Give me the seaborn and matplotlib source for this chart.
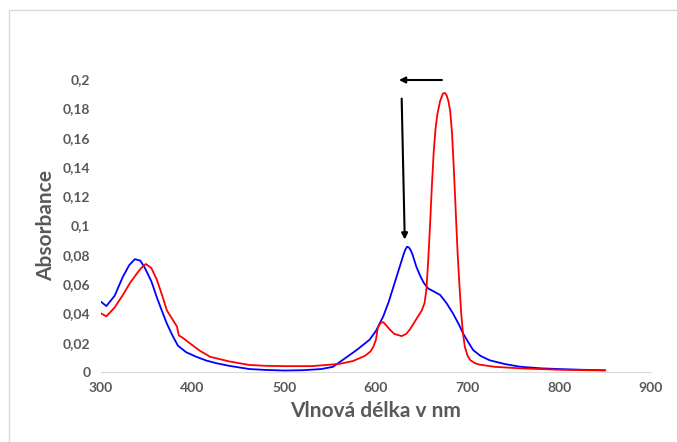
import numpy as np
import pandas as pd
import matplotlib
matplotlib.use("Agg")
import matplotlib.pyplot as plt
from matplotlib.lines import Line2D
import seaborn as sns

# spectrum (wavelength nm, absorbance)
blue_nm = [300, 306, 315, 324, 331, 337, 343, 348, 355, 361, 367, 372, 378, 384, 393, 404,
           415, 426, 440, 462, 480, 500, 520, 540, 553, 561, 570, 579, 586, 593, 600, 608,
           614, 619, 624, 628, 630, 632, 634, 636, 638, 640, 642, 644, 648, 652, 657, 663,
           670, 677, 684, 690, 695, 700, 706, 714, 724, 740, 757, 780, 800, 825, 850]
blue_abs = [0.048, 0.045, 0.052, 0.065, 0.073, 0.077, 0.076, 0.071, 0.062, 0.051, 0.041, 0.033,
            0.025, 0.018, 0.0135, 0.0104, 0.0078, 0.006, 0.0042, 0.002, 0.0014, 0.001, 0.0012, 0.002,
            0.0035, 0.007, 0.011, 0.015, 0.0185, 0.022, 0.028, 0.038, 0.048, 0.058, 0.068, 0.076,
            0.080, 0.0835, 0.0855, 0.085, 0.083, 0.080, 0.076, 0.072, 0.066, 0.061, 0.057, 0.055,
            0.0526, 0.047, 0.040, 0.033, 0.0264, 0.021, 0.015, 0.011, 0.008, 0.0055, 0.0036, 0.0025,
            0.002, 0.0015, 0.0012]
red_nm = [300, 306, 315, 324, 332, 339, 344, 349, 355, 361, 367, 372, 378, 383, 385, 390,
          397, 408, 419, 440, 462, 480, 500, 530, 560, 575, 588, 594, 597, 600, 602, 605,
          608, 611, 615, 620, 628, 633, 637, 642, 646, 650, 653, 655, 657, 659, 661, 663,
          665, 667, 670, 673, 675, 677, 679, 681, 683, 685, 687, 689, 691, 693, 695, 697,
          700, 703, 708, 713, 730, 757, 800, 850]
red_abs = [0.040, 0.038, 0.044, 0.0526, 0.061, 0.067, 0.071, 0.0737, 0.071, 0.063, 0.052, 0.042,
           0.036, 0.031, 0.025, 0.023, 0.0196, 0.0145, 0.0104, 0.0072, 0.0048, 0.0042, 0.004, 0.004,
           0.0055, 0.0075, 0.011, 0.014, 0.017, 0.022, 0.030, 0.0335, 0.034, 0.032, 0.029, 0.026,
           0.0245, 0.026, 0.029, 0.034, 0.038, 0.042, 0.047, 0.056, 0.076, 0.100, 0.127, 0.150,
           0.166, 0.176, 0.185, 0.190, 0.1905, 0.189, 0.185, 0.178, 0.163, 0.138, 0.110, 0.082,
           0.060, 0.040, 0.026, 0.017, 0.011, 0.008, 0.006, 0.005, 0.0035, 0.0025, 0.0015, 0.001]

x_ticks = [300, 400, 500, 600, 700, 800, 900]
y_ticks = [0, 0.02, 0.04, 0.06, 0.08, 0.1, 0.12, 0.14, 0.16, 0.18, 0.2]
y_labels = ["0", "0,02", "0,04", "0,06", "0,08", "0,1", "0,12", "0,14", "0,16", "0,18", "0,2"]

df = pd.concat([
    pd.DataFrame({"nm": blue_nm, "abs": blue_abs, "s": "blue"}),
    pd.DataFrame({"nm": red_nm, "abs": red_abs, "s": "red"}),
])

sns.set_style("white")
plt.rcParams["font.family"] = ["Lato", "DejaVu Sans"]
grey = "#595959"

fig = plt.figure(figsize=(6.77, 4.42), dpi=100)
ax = fig.add_axes([0.149, 0.1584, 0.8126, 0.6629])
sns.lineplot(data=df, x="nm", y="abs", hue="s", palette={"blue": "#0000ff", "red": "#ff0000"},
             linewidth=1.3, legend=False, ax=ax, sort=False)

ax.set_xlim(300, 900)
ax.set_ylim(0, 0.2)
ax.set_xticks(x_ticks)
ax.set_xticklabels([str(t) for t in x_ticks], fontsize=10, fontweight="bold", color=grey)
ax.set_yticks(y_ticks)
ax.set_yticklabels(y_labels, fontsize=10, fontweight="bold", color=grey)
ax.tick_params(axis="both", direction="inout", length=9, width=1, color="#d9d9d9", pad=3)
for side in ["left", "top", "right"]:
    ax.spines[side].set_visible(False)
ax.spines["bottom"].set_color("#d9d9d9")
ax.set_xlabel("Vlnová délka v nm", fontsize=15, fontweight="bold", color=grey, labelpad=5)
ax.set_ylabel("Absorbance", fontsize=15, fontweight="bold", color=grey, labelpad=5)

# arrows
ax.annotate("", xy=(622, 0.1993), xytext=(675, 0.1993),
            arrowprops=dict(arrowstyle="-|>", color="black", lw=1.5, mutation_scale=9),
            annotation_clip=False)
ax.annotate("", xy=(631.5, 0.0885), xytext=(628, 0.1885),
            arrowprops=dict(arrowstyle="-|>", color="black", lw=1.5, mutation_scale=9),
            annotation_clip=False)

# chart area border
fig.add_artist(Line2D([8.5 / 677, 8.5 / 677], [0, 1 - 9.5 / 442], color="#d9d9d9", lw=1))
fig.add_artist(Line2D([8.5 / 677, 1], [1 - 9.5 / 442, 1 - 9.5 / 442], color="#d9d9d9", lw=1))

fig.savefig("out.png", dpi=100)
